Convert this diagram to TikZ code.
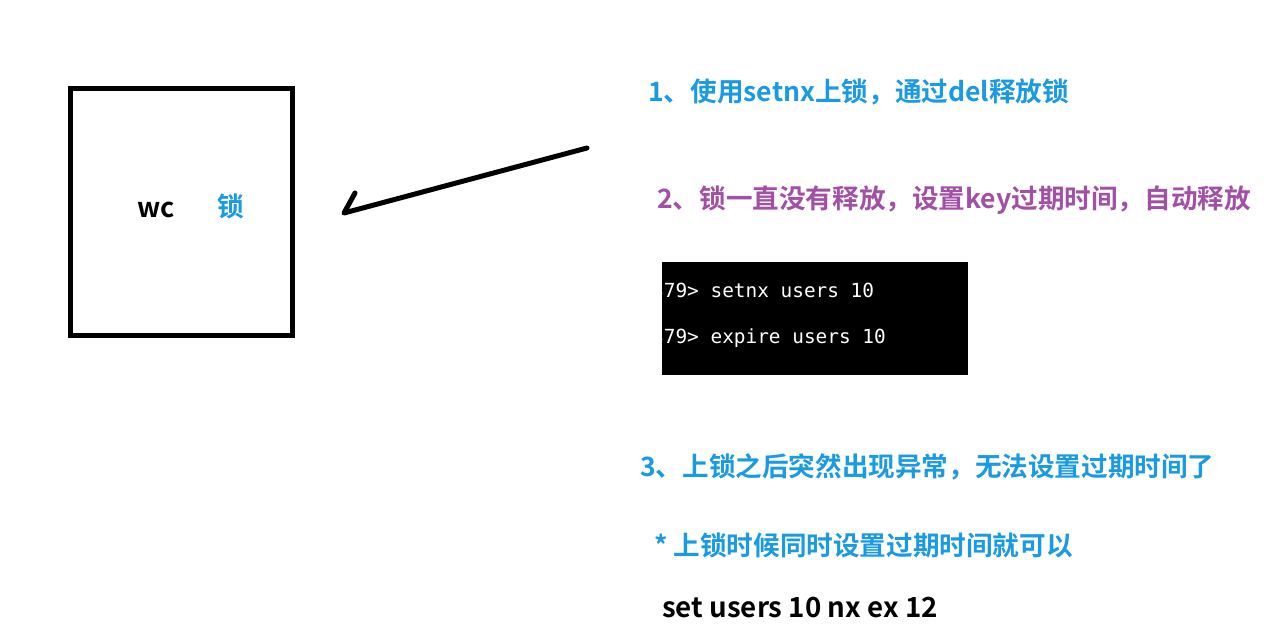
\documentclass[tikz,border=0pt]{standalone}
\usepackage{fontspec}
\usepackage{tikz}
\usetikzlibrary{positioning,calc}
\usepackage{xcolor}
\newfontfamily\cjk{Noto Sans CJK SC}[BoldFont={Noto Sans CJK SC Bold}]
\newfontfamily\termfont{DejaVu Sans Mono}
\definecolor{LockBlue}{HTML}{1A9AE2}
\definecolor{LockPurple}{HTML}{A24FA6}
\tikzset{
  note/.style={anchor=west, inner sep=0pt, text=LockBlue,
               font=\cjk\bfseries\fontsize{26.6}{31}\selectfont},
  notepurple/.style={note, text=LockPurple},
  cmd/.style={note, text=black, font=\cjk\bfseries\fontsize{27.7}{32}\selectfont},
  term/.style={anchor=west, inner sep=0pt, text=white,
               font=\termfont\fontsize{19.4}{23}\selectfont},
  pen/.style={line width=5pt, line cap=round, line join=round, black},
}
\begin{document}
\begin{tikzpicture}[x=1pt, y=-1pt]
  \useasboundingbox[fill=white] (0,0) rectangle (1268,642);
  % the room with the lock
  \node[draw, line width=5pt, minimum width=222pt, minimum height=247pt,
        inner sep=0pt] (wc) at (181,211.5) {};
  \node[anchor=west, inner sep=0pt, font=\cjk\bfseries\fontsize{27}{30}\selectfont]
        (wclabel) at (137,210) {wc};
  \node[note] (lock) at (217,206) {锁};
  % notes
  \node[note] (n1) at (648,92) {1、使用setnx上锁，通过del释放锁};
  \node[notepurple] (n2) at (657,200) {2、锁一直没有释放，设置key过期时间，自动释放};
  % console
  \node[fill=black, minimum width=306pt, minimum height=113pt, inner sep=0pt]
        (console) at (815,318.5) {};
  \begin{scope}
    \clip (console.south west) rectangle (console.north east);
    \node[term] (c1) at (652,290) {379> setnx users 10};
    \node[term] (c2) at (652,338) {379> expire users 10};
  \end{scope}
  \node[note] (n3) at (640,467) {3、上锁之后突然出现异常，无法设置过期时间了};
  \node[note] (n4) at (654,545) {* 上锁时候同时设置过期时间就可以};
  \node[cmd] (n5) at (662,608) {set users 10 nx ex 12};
  % hand drawn arrow
  \coordinate (tail) at (587,148);
  \coordinate (tip) at (344,213);
  \coordinate (barb) at (355,193);
  \draw[pen] (tail) -- (tip) -- (barb);
\end{tikzpicture}
\end{document}
